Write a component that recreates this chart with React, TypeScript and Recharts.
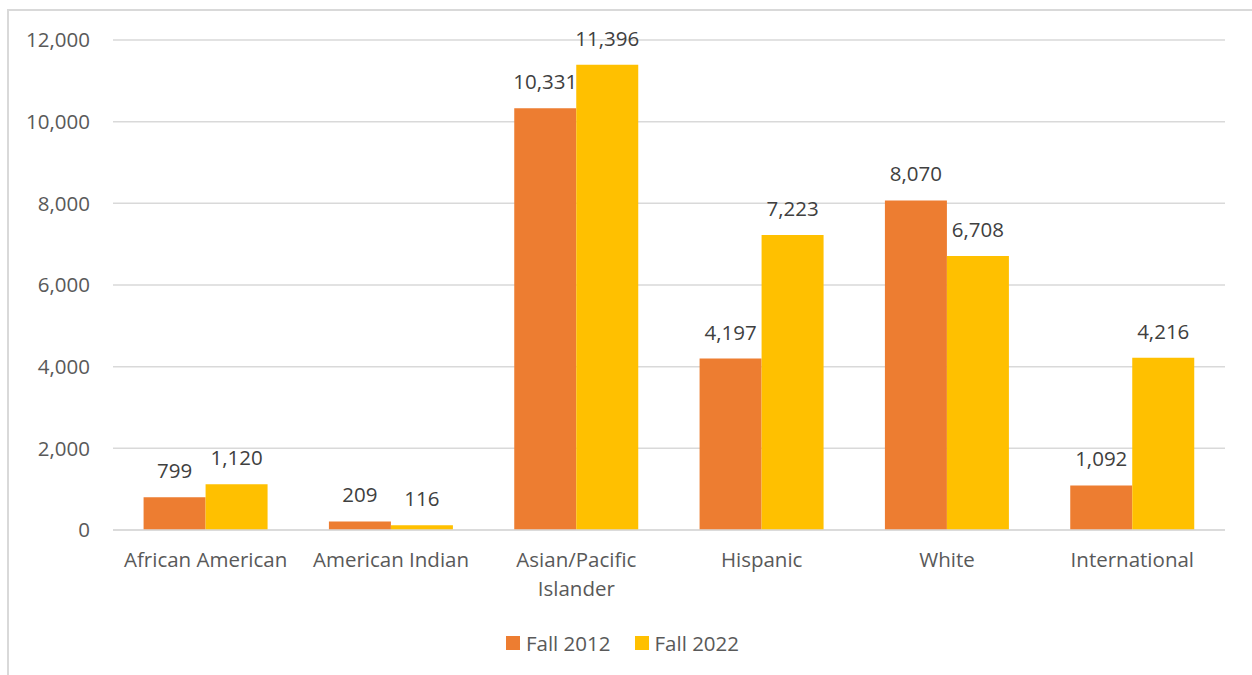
import { BarChart, Bar, XAxis, YAxis, CartesianGrid, Legend, LabelList } from 'recharts';

const categories = ['African American', 'American Indian', 'Asian/Pacific Islander', 'Hispanic', 'White', 'International'];
const fall2012 = [799, 209, 10331, 4197, 8070, 1092];
const fall2022 = [1120, 116, 11396, 7223, 6708, 4216];
const yTicks = [0, 2000, 4000, 6000, 8000, 10000, 12000];

const data = categories.map((name, i) => ({ name, fall2012: fall2012[i], fall2022: fall2022[i] }));

const FONT = '"Open Sans", sans-serif';
const FS = 20.5;
const fmt = (v: number) => v.toLocaleString('en-US');

// wraps long category names onto two lines, like the spreadsheet does
function CategoryTick(props: any) {
  const { x, y, payload } = props;
  const text: string = payload.value;
  let lines = [text];
  if (text.length > 18) {
    const cut = text.lastIndexOf(' ');
    lines = [text.slice(0, cut), text.slice(cut + 1)];
  }
  return (
    <text x={x} y={y} textAnchor="middle" fill="#595959" fontSize={FS} fontFamily={FONT}>
      {lines.map((l, i) => (
        <tspan key={i} x={x} dy={i === 0 ? 29 : 29}>{l}</tspan>
      ))}
    </text>
  );
}

function LegendBox(props: any) {
  const { payload } = props;
  return (
    <div style={{ display: 'flex', justifyContent: 'center', paddingLeft: 20, fontFamily: FONT, fontSize: FS, color: '#595959' }}>
      {payload.map((p: any, i: number) => (
        <div key={i} style={{ display: 'flex', alignItems: 'center', marginRight: i < payload.length - 1 ? 24 : 0 }}>
          <span style={{ width: 14, height: 14, background: p.color, marginRight: 6, display: 'inline-block' }} />
          <span>{p.value}</span>
        </div>
      ))}
    </div>
  );
}

export default function App() {
  return (
    <div style={{ position: 'fixed', inset: 0, overflow: 'hidden', background: '#fff' }}>
      <div style={{ position: 'absolute', left: 7, top: 9, width: 1300, height: 700, border: '2px solid #d9d9d9' }} />
      <div style={{ position: 'absolute', left: 0, top: 0 }}>
        <BarChart
          width={1252}
          height={675}
          data={data}
          margin={{ top: 40, right: 27, left: 0, bottom: 0 }}
          barCategoryGap="16.5%"
          barGap={0}
        >
          <CartesianGrid vertical={false} stroke="#d9d9d9" strokeWidth={1.5} />
          <XAxis
            dataKey="name"
            height={117}
            axisLine={{ stroke: '#d9d9d9', strokeWidth: 1.5 }}
            tickLine={false}
            tick={<CategoryTick />}
            interval={0}
          />
          <YAxis
            width={113}
            domain={[0, 12000]}
            ticks={yTicks}
            axisLine={false}
            tickLine={false}
            tickSize={0}
            tickMargin={23}
            tickFormatter={fmt}
            tick={{ fill: '#595959', fontSize: FS, fontFamily: FONT }}
          />
          <Legend verticalAlign="bottom" content={<LegendBox />} wrapperStyle={{ bottom: 18 }} />
          <Bar dataKey="fall2012" name="Fall 2012" fill="#ED7D31" isAnimationActive={false}>
            <LabelList dataKey="fall2012" position="top" offset={19} formatter={(v: any) => fmt(v)} fill="#404040" fontSize={FS} fontFamily={FONT} />
          </Bar>
          <Bar dataKey="fall2022" name="Fall 2022" fill="#FFC000" isAnimationActive={false}>
            <LabelList dataKey="fall2022" position="top" offset={19} formatter={(v: any) => fmt(v)} fill="#404040" fontSize={FS} fontFamily={FONT} />
          </Bar>
        </BarChart>
      </div>
    </div>
  );
}
